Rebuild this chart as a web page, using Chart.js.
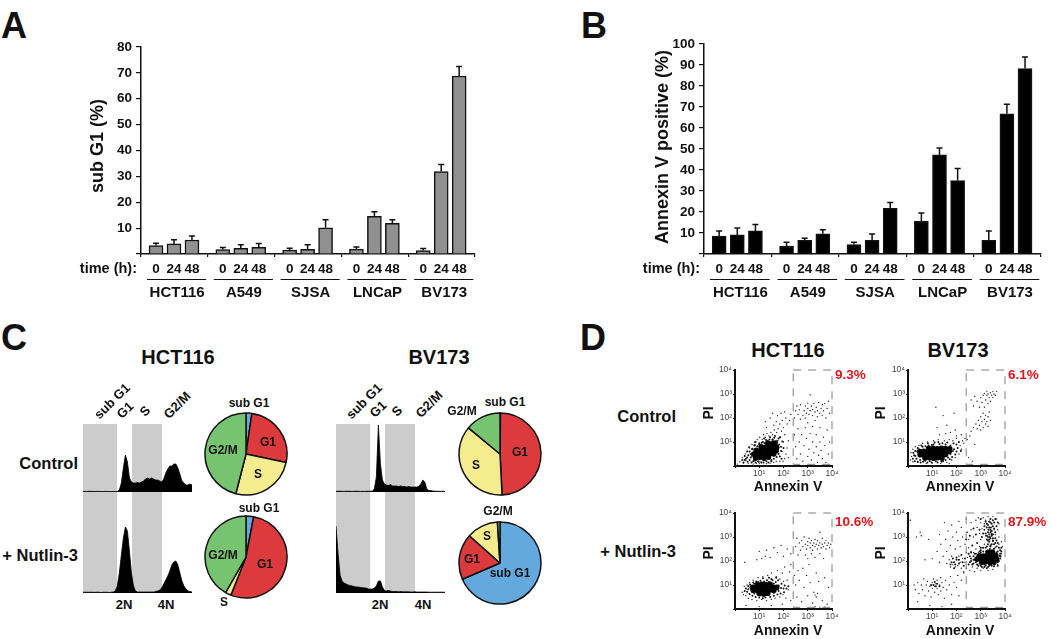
<!DOCTYPE html>
<html>
<head>
<meta charset="utf-8">
<title>Figure</title>
<script src="https://cdn.jsdelivr.net/npm/chart.js@4.4.1/dist/chart.umd.js"></script>
<style>
  html, body { margin: 0; padding: 0; background: #fff; }
  #page { position: relative; width: 1050px; height: 639px; overflow: hidden; background: #fff; }
  #page canvas { position: absolute; }
  .txt { position: absolute; font-family: "Liberation Sans", Arial, sans-serif; font-weight: bold; line-height: 1; white-space: nowrap; color: #111; }
</style>
</head>
<body>
<div id="page"></div>
<script>
//Bar chart data, three time points per cell line
const cellLines = ["HCT116", "A549", "SJSA", "LNCaP", "BV173"];
const timePoints = ["0", "24", "48"];
const subG1Mean = [3.3, 3.9, 5.4, 1.7, 2.2, 2.6, 1.5, 1.8, 10.1, 1.9, 14.6, 11.9, 1.3, 31.9, 68.8];
const subG1Err = [0.9, 1.6, 1.6, 0.8, 1.4, 1.5, 0.7, 1.8, 3.1, 0.8, 1.7, 1.3, 0.8, 2.7, 3.7];
const annexinMean = [8.5, 9.1, 11, 3.8, 6.5, 9.6, 4.5, 6.5, 21.7, 15.7, 47.2, 35, 6.5, 66.8, 88.3];
const annexinErr = [2.5, 3.3, 3, 1.8, 1, 1.9, 1.1, 3, 2.8, 3.8, 3.3, 5.7, 4.5, 4.5, 5.5];
const subG1Ticks = [0, 10, 20, 30, 40, 50, 60, 70, 80];
const annexinTicks = [0, 10, 20, 30, 40, 50, 60, 70, 80, 90, 100];

//DNA content histograms, counts per channel
const hctControlCounts = [.6,.6,.5,.7,.6,.6,.5,.6,.6,.5,.5,.6,.5,.5,.5,.5,.5,.6,2,9,24,37,30,14,10,9,9,9.5,9,10,11,13,14,13,14,13,12,12,11,10,13,19,23,26,26,28,28,24,18,11,9,7,7,8,7];
const hctNutlinCounts = [.8,.8,.8,.7,.8,.7,.7,.8,.7,.5,.8,.7,.8,.5,.8,1,2,7,20,38,55,66,62,42,20,7,2,1,1,1,1,1,1,1,1,1,1.5,2,3,5,9,13,17,22,28,31,32,28,20,12,7,4,2,1.5,1];
const bvControlCounts = [.7,.7,.8,.7,.6,.8,.7,.7,.6,.7,.8,.7,.6,.7,.6,.7,.7,.8,1,3,15,67,28,12,8,7,6.5,7.5,6,6,6,5.5,6,5.5,5.5,5,5.5,5,5,5,5,5.5,8,12,10,3,1.5,1.5,1,.8,.8,.7,.7,.7,.6];
const bvNutlinCounts = [67,40,18,12,10,9,8,7.5,7,6.5,6,6,5.5,5.5,5,5,4,4,4,5,7,12,12,6,2.5,2,2.5,2,1.5,1.5,1.5,1.2,1.5,1.2,1.2,1.2,1.2,1,1,1.2,1,1,1,1,1,1,.8,.8,.8,.8,.8,.8,.8,.8,.8];
const subG1Band = [0, 16.9];
const sBand = [24.3, 39.1];

//Cell cycle pies, percent per phase
const phases = ["sub G1", "G1", "S", "G2/M"];
const hctControlPie = [2.3, 26, 25.7, 46];
const hctNutlinPie = [3, 53, 2.3, 41.7];
const bvControlPie = [0.2, 49, 36.8, 14];
const bvNutlinPie = [68.5, 18.1, 12.4, 1];

//Annexin V / PI dot plots, [log10 annexin, log10 PI]
const decades = [0, 1, 2, 3, 4];
const superscripts = ["", "10¹", "10²", "10³", "10⁴"];
const gateX = [2.4, 4, 4, 2.4, 2.4];
const gateY = [4, 4, .07, .07, 4];

const hctControlCore = [[.85,.33],[1.02,.36],[1.2,.32],[1.38,.37],[.78,.5],[.95,.48],[1.12,.52],[1.3,.49],[1.47,.52],[1.6,.5],[.88,.65],[1.05,.63],[1.22,.67],[1.4,.65],[1.55,.68],[1.7,.64],[1.08,.8],[1.25,.78],[1.42,.82],[1.58,.8],[1.72,.78],[1.35,.95],[1.5,.93],[1.65,.96]];
const hctControlHalo = [[.5,.35],[.6,.25],[.65,.5],[.7,.7],[.75,.2],[.8,.85],[.95,.2],[1,.95],[1.15,1],[1.3,.2],[1.35,1.05],[1.5,.25],[1.55,1.1],[1.65,.45],[1.7,.95],[1.75,.65],[1.8,1.15],[.4,.25],[1.85,.4],[1.65,1.25],[1.9,.8],[.85,1],[1.2,1.15],[1.45,1.2],[.45,.3],[.52,.18],[.55,.45],[.6,.6],[.65,.35],[.68,.15],[.7,.42],[.72,.72],[.78,.22],[.8,.68],[.85,.15],[.82,.88],[.92,.82],[.98,.18],[1,.9],[1.08,.16],[1.1,.97],[1.18,.15],[1.22,.95],[1.28,1.08],[1.38,.15],[1.42,1.1],[1.5,.2],[1.55,1.08],[1.6,.3],[1.62,1.18],[1.72,.38],[1.75,1.05],[1.8,.5],[1.82,.9],[1.85,1.2],[1.9,.62],[1.92,.3],[1.95,1.02],[2,.75],[.35,.15],[.3,.25],[.4,.42],[.5,.6],[.58,.78]];
const hctControlSparse = [[.1,.08],[.2,.18],[.3,.35],[.35,.12],[.42,.5],[.45,.22],[.5,.62],[.55,.1],[.6,.75],[.68,.15],[.7,.9],[.75,.08],[.8,1],[.88,.12],[.92,1.1],[1,.1],[1.02,1.2],[1.1,.12],[1.12,1.1],[1.18,1.3],[1.25,1.2],[1.3,.1],[1.32,1.35],[1.4,1.25],[1.45,.12],[1.48,1.4],[1.55,1.3],[1.6,.15],[1.62,1.5],[1.7,.2],[1.72,1.4],[1.78,1.55],[1.85,.2],[1.88,1.2],[1.92,1.45],[1.95,.6],[1.98,.2],[2,1],[2.05,1.3],[2.1,.5],[2.15,.75],[2.2,1.05],[2.05,.3],[2.2,.35],[1.6,1.7],[1.7,1.85],[1.85,1.75],[1.95,1.9],[2,1.6],[2.1,2],[2.15,1.75],[2.25,1.9],[2.3,2.15],[1.3,1.6],[1.45,2],[1.75,2.1],[1.9,2.2],[2.05,2.25],[1.55,2.2],[1.25,1.85],
  [2.45,2],[2.5,2.3],[2.55,2.5],[2.6,2.15],[2.65,2.35],[2.7,2.55],[2.7,1.95],[2.8,2.1],[2.85,2.3],[2.9,2.5],[2.9,2],[2.95,2.2],[3,2.4],[3,2.62],[3.05,2.15],[3.1,2.3],[3.1,2.97],[3.15,2.5],[3.2,2.1],[3.2,2.35],[3.25,2.6],[3.3,2.25],[3.35,2.45],[3.4,2.05],[3.4,2.3],[3.45,2.65],[3.5,2.2],[3.55,2.4],[3.6,2.1],[3.6,2.55],[3.65,2.3],[3.7,2.6],[3.75,2],[3.8,2.4],[3.85,2.7],[3.9,2.2],
  [2.45,1.3],[2.5,.8],[2.55,.3],[2.6,1.55],[2.65,1],[2.7,.5],[2.75,1.3],[2.8,.2],[2.85,.85],[2.9,1.6],[2.95,1.15],[3,.4],[3,1.8],[3.05,.7],[3.1,1.35],[3.15,.25],[3.2,1],[3.2,1.65],[3.25,.55],[3.3,1.9],[3.35,.8],[3.35,1.3],[3.4,.15],[3.45,.45],[3.5,1],[3.5,1.6],[3.55,.65],[3.6,.3],[3.65,1.2],[3.7,.85],[3.75,.15],[3.8,1.5],[3.85,.5],[3.9,1]];

const hctNutlinCore = [[1,.65],[1.18,.63],[1.35,.66],[.75,.78],[.92,.77],[1.1,.79],[1.28,.78],[1.45,.8],[1.6,.77],[.72,.9],[.9,.89],[1.08,.91],[1.25,.9],[1.42,.92],[1.58,.89],[1.72,.9],[.92,1.02],[1.1,1.03],[1.28,1.02],[1.45,1.03]];
const hctNutlinHalo = [[.55,.82],[.65,.9],[.7,.72],[.8,1.05],[.8,.65],[.95,1.12],[1,.6],[1.2,1.15],[1.2,.55],[1.4,1.12],[1.4,.6],[1.6,1.05],[1.6,.68],[1.7,.85],[1.8,.75],[1.8,.98],[1.55,1.2],[1.9,.88],[2,.85],[.45,.85],[.5,.72],[.55,.95],[.6,.62],[.62,1.02],[.72,.55],[.75,1.1],[.85,.5],[.88,1.15],[1,.48],[1.05,1.18],[1.15,.45],[1.25,.48],[1.32,1.2],[1.45,.5],[1.5,1.25],[1.6,.55],[1.68,1.12],[1.75,.6],[1.78,1.2],[1.88,.65],[1.92,1.05],[2.02,.7],[2.05,.98],[2.12,.85],[1.7,1.3],[1.4,1.3],[1.15,1.28],[.4,.75],[2.2,.95]];
const hctNutlinSparse = [[.3,.7],[.35,.6],[.38,.95],[.45,.55],[.5,1],[.55,.45],[.6,1.1],[.7,.4],[.75,1.2],[.9,.35],[.95,1.3],[1.1,.4],[1.15,1.35],[1.3,.35],[1.35,1.4],[1.5,.4],[1.5,1.5],[1.65,.45],[1.7,1.35],[1.75,1.6],[1.85,.5],[1.85,1.25],[1.95,1.5],[1.98,.6],[2,1.15],[2.05,1.75],[2.1,.45],[2.15,1.2],[2.2,.8],[2.25,1.55],[2.3,.35],[2.3,1.85],[1.95,.2],[1.5,.15],[1,.1],[.45,.15],[.4,1.95],[.9,2.05],[1,2.4],[1.1,2.1],[1.3,2.45],[1.45,2.15],[1.6,2.55],[1.75,2.35],[1.9,2.65],[2,2.2],[2.15,2.5],[2.3,2.3],[1.25,2.2],
  [2.5,2.6],[2.55,2.95],[2.6,2.25],[2.65,2.75],[2.7,2.45],[2.75,2.85],[2.8,2.6],[2.85,3],[2.9,2.7],[2.95,2.5],[3,2.8],[3,2.65],[3.05,2.95],[3.1,2.55],[3.1,2.75],[3.15,2.85],[3.2,2.65],[3.2,2.45],[3.25,2.75],[3.3,2.9],[3.3,2.6],[3.35,2.7],[3.4,2.5],[3.4,2.85],[3.45,2.65],[3.5,2.75],[3.5,3.2],[3.55,2.55],[3.6,2.7],[3.6,2.95],[3.65,2.6],[3.7,2.75],[3.75,2.5],[3.75,2.85],[3.8,2.65],[3.85,2.75],[3.9,2.55],[3.95,2.7],[2.9,2.25],[3,2.1],[3.15,2.3],[3.3,2.15],[3.5,2.3],[3.65,2.1],
  [2.45,1.4],[2.5,1],[2.55,.5],[2.6,1.6],[2.65,1.2],[2.75,.3],[2.8,1.7],[2.85,.9],[2.95,1.4],[3,.55],[3.05,1.85],[3.1,1.1],[3.2,.25],[3.25,.7],[3.3,.58],[3.35,.5],[3.4,.65],[3.35,1.5],[3.45,1.15],[3.6,.35],[3.7,1.3],[3.8,.2],[3.85,.9],[3.3,.1],[3.5,.08],[3.7,.08]];

const bvControlCore = [[.7,.33],[.88,.34],[1.05,.32],[1.22,.35],[1.4,.33],[.5,.47],[.68,.46],[.85,.48],[1.02,.47],[1.2,.49],[1.38,.47],[1.55,.48],[.48,.6],[.65,.61],[.82,.59],[1,.61],[1.18,.6],[1.35,.62],[1.52,.6],[1.7,.61],[.85,.73],[1.03,.74],[1.2,.72],[1.38,.74],[1.55,.73],[1.72,.72]];
const bvControlHalo = [[.25,.45],[.3,.62],[.35,.3],[.45,.7],[.5,.25],[.6,.8],[.7,.22],[.85,.85],[.9,.2],[1.05,.9],[1.15,.2],[1.3,.92],[1.45,.2],[1.55,.9],[1.65,.35],[1.75,.5],[1.75,.85],[1.9,.7],[2,.6],[2,.9],[.2,.3],[.22,.55],[.28,.2],[.3,.42],[.38,.6],[.4,.18],[.4,.75],[.52,.15],[.55,.85],[.62,.18],[.72,.82],[.8,.15],[.82,.95],[.98,.15],[.98,.88],[1.1,.98],[1.22,.15],[1.25,1],[1.38,.18],[1.42,.95],[1.55,.25],[1.62,.98],[1.72,.28],[1.82,.38],[1.85,.62],[1.88,.95],[1.95,.48],[2.05,.75],[2.1,1],[2.18,.62]];
const bvControlSparse = [[.1,.25],[.12,.55],[.15,.4],[.2,.7],[.2,.18],[.3,.8],[.4,.15],[.45,.85],[.6,.95],[.75,.1],[.8,1],[1,.12],[1.05,1.05],[1.25,1.1],[1.35,.1],[1.5,1.05],[1.6,.15],[1.7,1.1],[1.8,.25],[1.85,1.05],[1.95,.35],[2,1.15],[2.1,.5],[2.15,.85],[2.2,.7],[2.25,1.05],[2.3,.95],[2.35,1.15],[2.2,1.3],[2,1.25],[1.55,1.35],[1.3,1.3],[1.75,1.4],[1.95,1.5],[1.2,1.6],[1.45,2.1],[1.15,2.45],[1.9,2.2],[1.6,1.7],[1.7,.1],
  [2.45,1.1],[2.5,.35],[2.55,1.25],[2.6,1.45],[2.65,.2],[2.7,1.6],[2.75,.9],[2.8,1.75],[2.85,1.55],[2.9,1.9],[2.95,1.7],[3,2.05],[3,1.5],[3.05,1.85],[3.1,2.2],[3.1,1.6],[3.15,1.95],[3.2,1.75],[3.2,2.1],[3.25,1.85],[3.3,2.05],[3.3,1.65],[3.35,2.25],[3.4,1.9],[2.6,2.75],[2.7,2.5],[2.75,2.9],[2.85,2.7],[2.95,2.45],[3,2.85],[3.05,2.65],[3.1,2.95],[3.15,2.45],[3.2,2.75],[3.25,2.95],[3.3,2.6],[3.3,3],[3.35,2.85],[3.4,3.05],[3.45,2.95],[3.5,3.1],[3.55,3],[3.6,2.95],[3.4,2.7],[3.25,3.1],[3.15,3.02],[3.5,2.85],[3.65,3.1]];

const bvNutlinCore = [[3.05,1.95],[3.2,1.97],[3.38,1.94],[3.55,1.96],[2.85,2.08],[3,2.07],[3.15,2.09],[3.32,2.08],[3.48,2.1],[3.65,2.07],[2.95,2.22],[3.12,2.21],[3.28,2.23],[3.45,2.22],[3.62,2.23],[3.3,2.36],[3.48,2.37]];
const bvNutlinHalo = [[2.75,2.05],[2.9,2.1],[2.95,1.9],[3.2,1.8],[3.4,1.85],[3.6,1.9],[3.8,2.1],[3.8,2.45],[3.65,2.6],[3.4,2.6],[3.35,2.8],[3.5,2.85],[3.3,3],[3.45,3.05],[3.3,3.2],[3.45,3.25],[3.35,3.4],[3.5,3.45],[3.4,3.6],[3.55,3.6],[3.25,3.55],[3.15,3.3],[2.6,2],[2.5,1.85],[2.55,2.2],[3,2.35],[1.9,1.95],[2,2.05],[2.6,2.1],[2.7,1.9],[2.7,2.2],[2.8,2.3],[2.85,1.85],[3,1.8],[3.15,1.75],[3.3,1.75],[3.45,1.8],[3.55,1.78],[3.7,1.95],[3.82,2.2],[3.85,2.4],[3.75,2.55],[3.7,2.75],[3.6,2.95],[3.6,3.2],[3.65,3.45],[3.25,2.9],[3.2,3.15],[3.25,3.4],[3.2,3.65],[3.6,3.75],[3.4,3.75],[3.25,2.6],[3.1,2.55],[3,2.45],[1.8,1.95],[1.85,2.1],[1.95,1.85],[2,2.15],[2.1,1.9],[2.1,2.05],[1.75,1.85],[1.9,1.7],[.95,1],[1.05,1],[1.15,.95],[1.2,1.05],[1.3,.95],[1.1,1.12],
  [3.4,2.65],[3.35,2.9],[3.5,2.83],[3.38,3],[3.45,3.12],[3.4,3.2],[3.32,3.3],[3.42,3.4],[3.65,2.35],[3.78,2.21],[3.38,2.5],[3.55,2.51],[2.5,2.3],[2.55,1.95],[2.6,2.35],[2.65,1.85],[2.7,2.05],[2.75,2.3],[2.8,1.95],[2.85,2.2],[2.9,1.8],[2.95,2.4],[3,2.55],[3.05,1.75],[3.1,2.4],[3.15,1.85],[3.2,2.55],[3.25,1.7],[3.3,2.7],[3.35,1.8],[3.45,2.7],[3.5,2.95],[3.55,1.85],[3.55,2.7],[3.6,2.75],[3.65,2.85],[3.7,2.4],[3.7,1.8],[3.75,2],[3.8,2.3],[3.85,2.55],[3.3,2.85],[3.4,2.95],[3.25,3.05],[3.35,3.1],[3.5,3.1],[3.55,3.35],[3.4,3.3],[3.3,3.5],[3.45,3.55],[3.15,3.45],[3.1,3.15],[3.05,3],[2.95,3.3],[3,3.75],[3.35,3.65],[3.5,3.7],[3.7,3.6],[2.8,3.1],[2.7,3.35],[2.55,3.05],[2.4,2.9],[2.65,2.65],[2.85,2.75],[2.35,2.1],[2.3,1.8],[2.2,2.25],[2.25,1.95]];
const bvNutlinSparse = [[1.6,1.9],[1.7,2.05],[1.75,1.75],[1.8,2.2],[1.85,1.85],[1.95,1.75],[2.05,1.8],[2.1,2.2],[2.15,1.95],[2.2,1.7],[2.25,2.1],[2.3,1.55],[2.35,1.95],[2.4,2.35],[2.4,1.7],[2.45,2.15],[2.5,2.55],[2.55,1.6],[2.6,2.4],[2.65,1.75],[2.7,2.35],[2.75,1.55],[2.8,2.5],[2.85,1.7],[2.9,2.35],[2.95,2.6],[3,1.6],[3.05,2.55],[3.1,1.7],[3.15,2.7],[3.2,2.4],[3.3,1.6],[3.5,1.65],[3.7,1.85],[3.85,2.3],[3.9,2.6],[3.85,2.8],[3.75,3],[3.7,3.3],[3.75,3.55],[3.65,3.75],[3.5,3.85],[3.3,3.85],[3.1,3.8],[3,3.6],[3.05,3.35],[3.15,3.55],[2.95,3.15],[2.85,3.4],[2.8,3.7],[2.7,3],[2.6,3.3],[2.6,3.6],[2.5,2.9],[2.45,3.2],[2.4,3.75],[2.35,2.7],[2.25,3],[2.2,3.4],[2.15,2.6],[2.1,3.65],[2.05,2.85],[2,3.2],[1.95,2.5],[1.85,3],[1.8,3.5],[1.75,2.65],[1.65,3.25],[1.6,2.4],[1.55,2.9],[1.5,3.6],[1.45,2.2],[1.35,2.7],[1.3,3.1],[1.3,1.95],[1.2,2.4],[1,2.1],[.85,2.9],[.7,2.05],[.55,3.05],[.35,3],[.5,3.2],[3,2.9],[2.9,3.8],[3.2,3.7],[3.55,3.3],[3.6,3.1],[3.2,3.05],[3.3,2.45],[3.6,2.55],[3.75,2.7],
  [.25,1],[.3,.8],[.4,1.1],[.45,.65],[.55,1],[.6,.8],[.65,1.25],[.7,.55],[.75,1],[.8,1.15],[.85,.75],[.9,.95],[.95,.5],[1,1.1],[1,.85],[1.05,1.25],[1.1,.95],[1.1,.7],[1.15,1.05],[1.2,.85],[1.2,1.2],[1.25,.6],[1.3,1],[1.35,1.3],[1.35,.75],[1.4,1.1],[1.45,.9],[1.5,.45],[1.55,1.2],[1.6,.8],[1.7,1],[1.75,1.35],[1.8,.6],[1.9,1.1],[2,.9],[2.05,1.4],[2.1,.55],[2.2,1.2],[2.3,1.5],[1.4,.1],[.9,.15],[1.8,.2],[.4,.3],[.1,3.7]];

//Put a canvas on the page at a fixed spot
function addCanvas(left, top, width, height) {
  const canvas = document.createElement("canvas");
  canvas.width = width;
  canvas.height = height;
  canvas.style.left = left + "px";
  canvas.style.top = top + "px";
  canvas.style.width = width + "px";
  canvas.style.height = height + "px";
  document.getElementById("page").appendChild(canvas);
  return canvas;
}

//Put a bold text on the page, centered on x,y unless an align is given
function addText(text, x, y, size, align, rotate, color) {
  const el = document.createElement("div");
  el.className = "txt";
  el.textContent = text;
  el.style.fontSize = size + "px";
  el.style.left = x + "px";
  el.style.top = y + "px";
  let shiftX = "-50%";
  if (align == "right") shiftX = "-100%";
  if (align == "left") shiftX = "0";
  el.style.transform = `translate(${shiftX},-50%) rotate(${rotate || 0}deg)`;
  if (color) el.style.color = color;
  document.getElementById("page").appendChild(el);
}

const commonOptions = {
  responsive: false,
  animation: false,
  events: [],
};

//Error bars and the labels below the axis of a bar chart
function barExtras(errors) {
  return {
    id: "barExtras",
    afterDatasetsDraw(chart) {
      const ctx = chart.ctx;
      const xScale = chart.scales.x;
      const yScale = chart.scales.y;
      const values = chart.data.datasets[0].data;
      ctx.save();
      ctx.strokeStyle = "#111";
      ctx.lineWidth = 1.5;
      values.forEach((point, i) => {
        const x = xScale.getPixelForValue(point.x);
        const top = yScale.getPixelForValue(point.y);
        const end = yScale.getPixelForValue(point.y + errors[i]);
        ctx.beginPath();
        ctx.moveTo(x, top);
        ctx.lineTo(x, end);
        ctx.moveTo(x - 3, end);
        ctx.lineTo(x + 3, end);
        ctx.stroke();
      });
      ctx.fillStyle = "#111";
      ctx.textAlign = "center";
      ctx.textBaseline = "middle";
      const base = yScale.bottom;
      ctx.font = 'bold 13.5px "Liberation Sans"';
      values.forEach((point, i) => {
        ctx.fillText(timePoints[i % 3], xScale.getPixelForValue(point.x), base + 15);
      });
      cellLines.forEach((name, g) => {
        ctx.lineWidth = 1;
        ctx.beginPath();
        ctx.moveTo(xScale.getPixelForValue(g + 0.09), base + 25.5);
        ctx.lineTo(xScale.getPixelForValue(g + 0.975), base + 25.5);
        ctx.stroke();
        ctx.font = 'bold 15px "Liberation Sans"';
        ctx.fillText(name, xScale.getPixelForValue(g + 0.54), base + 38.5);
      });
      ctx.restore();
    },
  };
}

//Bar chart of panels A and B
function loadBarChart(canvas, means, errors, ticks, color) {
  const offsets = [0.225, 0.494, 0.763];
  const points = means.map((v, i) => ({ x: Math.floor(i / 3) + offsets[i % 3], y: v }));
  new Chart(canvas, {
    type: "bar",
    data: {
      datasets: [
        {
          data: points,
          backgroundColor: color,
          borderColor: "#111",
          borderWidth: 1.5,
          barThickness: 14,
        },
      ],
    },
    options: {
      ...commonOptions,
      layout: { padding: { top: 7, right: 5, left: 0, bottom: 0 } },
      plugins: { legend: { display: false }, tooltip: { enabled: false } },
      scales: {
        x: {
          type: "linear",
          offset: false,
          min: 0,
          max: cellLines.length,
          afterBuildTicks: (scale) => {
            scale.ticks = [0, 1, 2, 3, 4, 5].map((v) => ({ value: v }));
          },
          afterFit: (scale) => {
            scale.height = 51;
            scale.paddingLeft = 0;
            scale.paddingRight = 0;
          },
          grid: { drawOnChartArea: false, offset: false, tickLength: 3, color: "#111", lineWidth: 1.2 },
          border: { color: "#111", width: 1.5 },
          ticks: { callback: () => "", maxRotation: 0 },
        },
        y: {
          min: ticks[0],
          max: ticks[ticks.length - 1],
          afterBuildTicks: (scale) => {
            scale.ticks = ticks.map((v) => ({ value: v }));
          },
          afterFit: (scale) => {
            scale.width = 41;
            scale.paddingTop = 0;
            scale.paddingBottom = 0;
          },
          grid: { drawOnChartArea: false, tickLength: 5, color: "#111", lineWidth: 1.2 },
          border: { color: "#111", width: 1.5 },
          ticks: {
            padding: 4,
            color: "#111",
            font: { family: "Liberation Sans", weight: "bold", size: 13.5 },
            callback: (v) => (v == 0 ? "" : v),
          },
        },
      },
    },
    plugins: [barExtras(errors)],
  });
}

//Gray gates behind a histogram
const bandPlugin = {
  id: "bands",
  beforeDatasetsDraw(chart) {
    const ctx = chart.ctx;
    const area = chart.chartArea;
    const xScale = chart.scales.x;
    ctx.save();
    ctx.fillStyle = "#cccccc";
    [subG1Band, sBand].forEach((band) => {
      const x1 = xScale.getPixelForValue(band[0]);
      const x2 = xScale.getPixelForValue(band[1]);
      ctx.fillRect(x1, area.top, x2 - x1, area.bottom - area.top);
    });
    ctx.restore();
  },
};

function loadHistogram(canvas, counts, maxCount) {
  new Chart(canvas, {
    type: "line",
    data: {
      labels: counts.map((c, i) => i),
      datasets: [
        {
          data: counts,
          borderColor: "#000",
          backgroundColor: "#000",
          borderWidth: 0.8,
          pointRadius: 0,
          tension: 0,
          fill: "origin",
        },
      ],
    },
    options: {
      ...commonOptions,
      plugins: { legend: { display: false }, tooltip: { enabled: false } },
      scales: {
        x: { display: false },
        y: { display: false, min: 0, max: maxCount },
      },
    },
    plugins: [bandPlugin],
  });
}

function loadPie(canvas, values) {
  new Chart(canvas, {
    type: "pie",
    data: {
      labels: phases,
      datasets: [
        {
          data: values,
          backgroundColor: ["#63a9de", "#dc3a3c", "#f4ec8e", "#76c46f"],
          borderColor: "#111",
          borderWidth: 1.5,
        },
      ],
    },
    options: {
      ...commonOptions,
      radius: 41,
      plugins: { legend: { display: false }, tooltip: { enabled: false } },
    },
  });
}

//Dashed gate of a dot plot
const gatePlugin = {
  id: "gate",
  afterDraw(chart) {
    const ctx = chart.ctx;
    ctx.save();
    ctx.strokeStyle = "#808080";
    ctx.lineWidth = 1;
    ctx.setLineDash([8, 7]);
    ctx.beginPath();
    gateX.forEach((x, i) => {
      const px = chart.scales.x.getPixelForValue(x);
      const py = chart.scales.y.getPixelForValue(gateY[i]);
      if (i == 0) ctx.moveTo(px, py);
      else ctx.lineTo(px, py);
    });
    ctx.stroke();
    ctx.restore();
  },
};

//Dot plot of panel D, heavy spots for the dense core and single dots around it
function loadDotPlot(canvas, core, halo, sparse) {
  const toPoints = (list) => list.map((p) => ({ x: p[0], y: p[1] }));
  new Chart(canvas, {
    type: "scatter",
    data: {
      datasets: [
        { data: toPoints(sparse), pointRadius: 0.7, pointBackgroundColor: "#222", pointBorderWidth: 0 },
        { data: toPoints(halo), pointRadius: 1, pointBackgroundColor: "#111", pointBorderWidth: 0 },
        { data: toPoints(core), pointRadius: 2.8, pointBackgroundColor: "#000", pointBorderWidth: 0 },
      ],
    },
    options: {
      ...commonOptions,
      layout: { padding: { top: 6, right: 8, left: 0, bottom: 0 } },
      plugins: { legend: { display: false }, tooltip: { enabled: false } },
      scales: {
        x: {
          type: "linear",
          min: 0,
          max: 4,
          afterBuildTicks: (scale) => {
            scale.ticks = decades.map((v) => ({ value: v }));
          },
          afterFit: (scale) => {
            scale.height = 18;
            scale.paddingLeft = 0;
            scale.paddingRight = 0;
          },
          grid: { drawOnChartArea: false, tickLength: 2, color: "#111" },
          border: { color: "#111", width: 2 },
          ticks: { padding: 1, maxRotation: 0, color: "#444", font: { family: "Liberation Sans", size: 8.5 }, callback: (v) => superscripts[v] },
        },
        y: {
          min: 0,
          max: 4,
          afterBuildTicks: (scale) => {
            scale.ticks = decades.map((v) => ({ value: v }));
          },
          afterFit: (scale) => {
            scale.width = 30;
            scale.paddingTop = 0;
            scale.paddingBottom = 0;
          },
          grid: { drawOnChartArea: false, tickLength: 2, color: "#111" },
          border: { color: "#111", width: 2 },
          ticks: { padding: 1, color: "#444", font: { family: "Liberation Sans", size: 8.5 }, callback: (v) => superscripts[v] },
        },
      },
    },
    plugins: [gatePlugin],
  });
}

//Panel A
loadBarChart(addCanvas(100, 40, 380, 265), subG1Mean, subG1Err, subG1Ticks, "#909090");
addText("A", 14, 26, 36);
addText("sub G1 (%)", 97, 146, 18, null, -90);
addText("time (h):", 137, 268, 14.5, "right");

//Panel B
loadBarChart(addCanvas(663, 37, 383, 268), annexinMean, annexinErr, annexinTicks, "#000");
addText("B", 594, 26, 36);
addText("Annexin V positive (%)", 662, 147, 18, null, -90);
addText("time (h):", 700, 268, 14.5, "right");

//Panel C
addText("C", 14, 338, 36);
addText("HCT116", 178, 357, 20);
addText("BV173", 439, 357, 20);
addText("Control", 78, 463, 16.5, "right");
addText("+ Nutlin-3", 78, 555, 16.5, "right");

loadHistogram(addCanvas(83, 424, 109, 68), hctControlCounts, 68);
loadHistogram(addCanvas(83, 492, 109, 101), hctNutlinCounts, 101);
loadHistogram(addCanvas(336, 424, 109, 68), bvControlCounts, 68);
loadHistogram(addCanvas(336, 492, 109, 101), bvNutlinCounts, 101);

addText("sub G1", 112, 401, 13, null, -45);
addText("G1", 125, 410, 13, null, -45);
addText("S", 145, 411, 13, null, -45);
addText("G2/M", 177, 405, 13, null, -45);
addText("sub G1", 364, 401, 13, null, -45);
addText("G1", 378, 409, 13, null, -45);
addText("S", 397, 411, 13, null, -45);
addText("G2/M", 429, 404, 13, null, -45);
addText("2N", 124, 604, 13);
addText("4N", 166, 604, 13);
addText("2N", 380, 604, 13);
addText("4N", 423, 604, 13);

loadPie(addCanvas(203, 411, 86, 86), hctControlPie);
loadPie(addCanvas(203, 514, 86, 86), hctNutlinPie);
loadPie(addCanvas(457, 411, 86, 86), bvControlPie);
loadPie(addCanvas(457, 520, 86, 86), bvNutlinPie);

addText("sub G1", 249, 403, 12);
addText("G1", 268, 442, 12);
addText("S", 258, 474, 12);
addText("G2/M", 223, 450, 12);
addText("sub G1", 259, 508, 12);
addText("G1", 265, 564, 12);
addText("S", 224, 602, 12);
addText("G2/M", 223, 555, 12);
addText("sub G1", 505, 402, 12);
addText("G2/M", 462, 411, 12);
addText("G1", 520, 452, 12);
addText("S", 476, 465, 12);
addText("G2/M", 498, 511, 12);
addText("S", 487, 536, 12);
addText("G1", 472, 559, 12);
addText("sub G1", 510, 573, 12);

//Panel D
addText("D", 593, 338, 36);
addText("HCT116", 788, 350, 20);
addText("BV173", 958, 350, 20);
addText("Control", 676, 416, 16.5, "right");
addText("+ Nutlin-3", 676, 551, 16.5, "right");

loadDotPlot(addCanvas(705, 364, 135, 120), hctControlCore, hctControlHalo, hctControlSparse);
loadDotPlot(addCanvas(705, 507, 135, 120), hctNutlinCore, hctNutlinHalo, hctNutlinSparse);
loadDotPlot(addCanvas(878, 364, 135, 120), bvControlCore, bvControlHalo, bvControlSparse);
loadDotPlot(addCanvas(878, 507, 135, 120), bvNutlinCore, bvNutlinHalo, bvNutlinSparse);

addText("PI", 708, 413, 14, null, -90);
addText("PI", 708, 553, 14, null, -90);
addText("PI", 880, 413, 14, null, -90);
addText("PI", 880, 553, 14, null, -90);
addText("Annexin V", 788, 486, 14);
addText("Annexin V", 788, 630, 14);
addText("Annexin V", 960, 486, 14);
addText("Annexin V", 960, 630, 14);
addText("9.3%", 835, 375, 13.5, "left", 0, "#e0161d");
addText("10.6%", 835, 522, 13.5, "left", 0, "#e0161d");
addText("6.1%", 1008, 375, 13.5, "left", 0, "#e0161d");
addText("87.9%", 1008, 522, 13.5, "left", 0, "#e0161d");
</script>
</body>
</html>
